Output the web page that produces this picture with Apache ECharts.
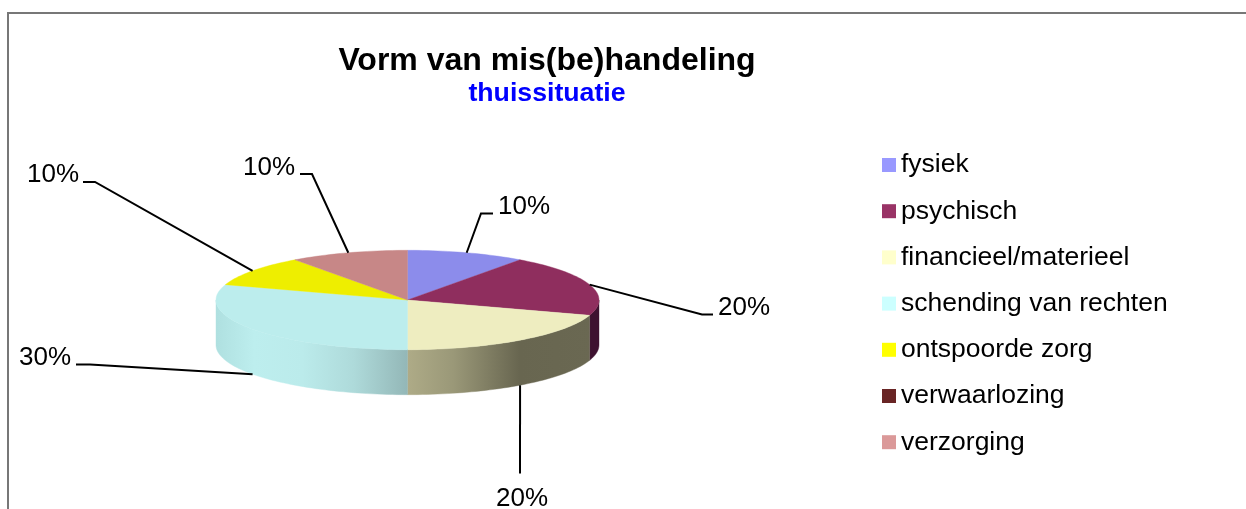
<!DOCTYPE html>
<html>
<head>
<meta charset="utf-8">
<style>html,body{margin:0;padding:0;background:#fff}#c{width:1246px;height:509px}</style>
<script src="https://cdn.jsdelivr.net/npm/echarts@6/dist/echarts.min.js"></script>
</head>
<body>
<div id="c"></div>
<script>
// Data
const categories = ['fysiek','psychisch','financieel/materieel','schending van rechten','ontspoorde zorg','verwaarlozing','verzorging'];
const values = [10,20,20,30,10,0,10];

// Styles
const legendColors = ['#9999FF','#993366','#FFFFCC','#CCFFFF','#FFFF00','#692525','#DB9999'];
const topColors = ['#8C8CEB','#8F2E5E','#EEEDC0','#BCEDED','#EEEE00','#692525','#C78787'];
const FONT = '"Liberation Sans", Arial, sans-serif';
const LABEL_FONT = '26px ' + FONT;

// Layout of the flattened pie
const CX = 407.5, CY = 300, RX = 191.5, RY = 49.7, DEPTH = 45;
// leader-line elbow, leader-line end, label anchor, per slice
const leaderLayout = [
  {elbow:[481,213.5], end:[493,213.5], label:[524,207]},
  {elbow:[702,314.5], end:[713,314.5], label:[744,308]},
  {elbow:null,        end:[520,473.5], label:[522,498.5]},
  {elbow:[90,364.5],  end:[76,364.5],  label:[45,358]},
  {elbow:[95,182],    end:[83,182],    label:[53,174.5]},
  null,
  {elbow:[312,174],   end:[300,174],   label:[269,168]}
];
const total = values.reduce((a,b)=>a+b,0);
const deg = values.reduce((acc,v)=>{acc.push(acc[acc.length-1]+v/total*360);return acc;},[0]);

function rim(a, dy){
  const r = a*Math.PI/180;
  return [CX+RX*Math.sin(r), CY-RY*Math.cos(r)+(dy||0)];
}
function arc(a0,a1,dy){
  const pts=[], n=Math.max(2,Math.ceil(Math.abs(a1-a0)/1.5));
  for(let i=0;i<=n;i++) pts.push(rim(a0+(a1-a0)*i/n,dy));
  return pts;
}
function hGrad(x0,x1,stops){
  return {type:'linear',x:x0,y:0,x2:x1,y2:0,global:true,
    colorStops:stops.map(s=>({offset:s[0],color:s[1]}))};
}
const sideFill = {
  1: ()=>'#3E1230',
  2: ()=>hGrad(407.5,591,[[0,'#AEAB87'],[0.25,'#9A9878'],[0.61,'#686650'],[1,'#6A6852']]),
  3: ()=>hGrad(216,407.5,[[0,'#AFE0E0'],[0.2,'#BDEEEE'],[0.45,'#BBEBEB'],[0.72,'#AEDADA'],[1,'#93B7B7']])
};

function makeRender(idx){
  return function(params, api){
    const v = api.value(0);
    if(!v) return {type:'group',children:[]};
    const a0=deg[idx], a1=deg[idx+1], kids=[];
    // visible side wall: only the part of the slice facing the viewer (90..270 deg)
    const s0=Math.max(a0,90), s1=Math.min(a1,270);
    if(s1>s0){
      const top=arc(s0,s1,0), bot=arc(s1,s0,DEPTH);
      const fill=sideFill[idx]?sideFill[idx]():topColors[idx];
      kids.push({type:'polygon',shape:{points:top.concat(bot)},style:{fill:fill,stroke:fill,lineWidth:0.4}});
    }
    // top face
    kids.push({type:'polygon',shape:{points:[[CX,CY]].concat(arc(a0,a1,0))},
      style:{fill:topColors[idx],stroke:topColors[idx],lineWidth:0.4}});
    // leader line and label
    const L=leaderLayout[idx];
    if(L){
      const mid=(a0+a1)/2;
      const front=mid>90&&mid<270;
      const start=rim(mid,front?DEPTH:0);
      const pts=[start];
      if(L.elbow) pts.push(L.elbow);
      pts.push(L.end);
      kids.push({type:'polyline',shape:{points:pts},z2:5,
        style:{stroke:'#000',lineWidth:2,fill:null}});
      kids.push({type:'text',z2:6,x:L.label[0],y:L.label[1],
        style:{text:Math.round(v/total*100)+'%',font:LABEL_FONT,fill:'#000',align:'center',verticalAlign:'middle'}});
    }
    return {type:'group',children:kids};
  };
}

const chart = echarts.init(document.getElementById('c'),null,{renderer:'canvas'});
chart.setOption({
  animation:false,
  backgroundColor:'#fff',
  title:[
    {text:'Vorm van mis(be)handeling',left:547,top:45,textAlign:'center',padding:0,
     textStyle:{fontFamily:FONT,fontSize:32,fontWeight:'bold',color:'#000'}},
    {text:'thuissituatie',left:547,top:80,textAlign:'center',padding:0,
     textStyle:{fontFamily:FONT,fontSize:26.7,fontWeight:'bold',color:'#0000FF'}}
  ],
  legend:{
    orient:'vertical',left:882,top:150,padding:0,
    itemWidth:14,itemHeight:14,itemGap:16.2,icon:'rect',selectedMode:false,
    data:categories,
    textStyle:{fontFamily:FONT,fontSize:26.5,color:'#000',lineHeight:30,padding:0}
  },
  graphic:[{type:'polyline',silent:true,
    shape:{points:[[8,509],[8,13],[1246,13]]},
    style:{stroke:'#777777',lineWidth:2,fill:null}}],
  series:categories.map((name,i)=>({
    type:'custom',name:name,coordinateSystem:'none',silent:true,
    itemStyle:{color:legendColors[i]},
    data:[[values[i]]],
    renderItem:makeRender(i)
  }))
});
</script>
</body>
</html>
